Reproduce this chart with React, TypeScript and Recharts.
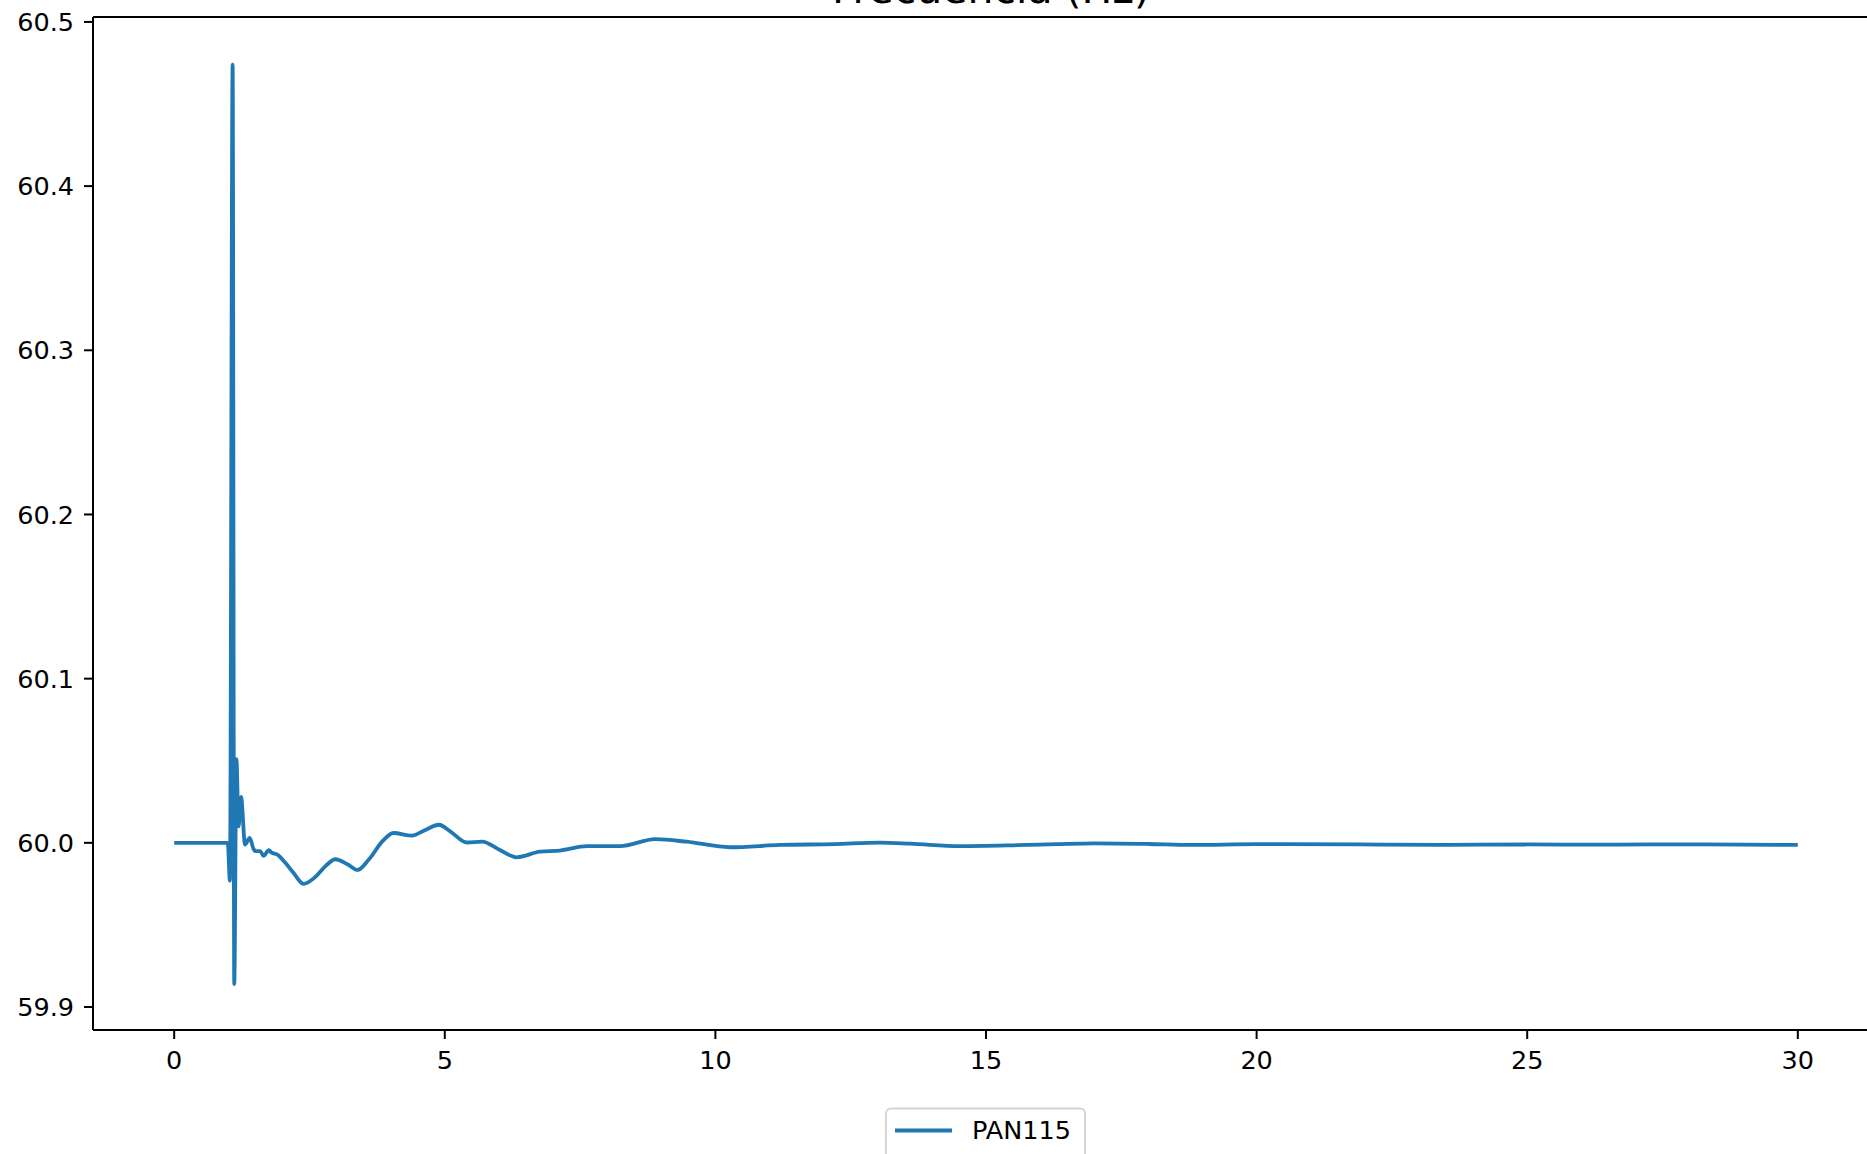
import { LineChart, Line, XAxis, YAxis, ReferenceLine } from "recharts";

const seriesName = "PAN115";
const chartTitle = "Frecuencia (Hz)";

// tiempo (s)
const time = [
  0, 0.99, 1.03, 1.08, 1.11, 1.15, 1.19, 1.235, 1.31, 1.395, 1.47, 1.5, 1.59, 1.65,
  1.75, 1.8, 1.9, 2.05, 2.21, 2.39, 2.6, 2.8, 2.98, 3.2, 3.39, 3.6, 3.85, 4.05, 4.39,
  4.65, 4.89, 5.1, 5.41, 5.69, 6.0, 6.33, 6.76, 7.13, 7.63, 8.24, 8.89, 9.47, 10.27,
  11.2, 12.2, 13.04, 13.6, 14.52, 15.5, 16.3, 17.0, 18.0, 18.8, 20.0, 21.9, 23.5,
  25.0, 26.5, 28.0, 30,
];

// frecuencia (Hz)
const freq = [
  60.0, 60.0, 59.977, 60.474, 59.914, 60.051, 60.01, 60.028, 59.999, 60.003, 59.996,
  59.995, 59.995, 59.992, 59.9955, 59.994, 59.993, 59.988, 59.9815, 59.975, 59.979,
  59.986, 59.99, 59.987, 59.9835, 59.99, 60.001, 60.006, 60.0044, 60.008, 60.011,
  60.007, 60.0002, 60.0007, 59.996, 59.9912, 59.9946, 59.9953, 59.998, 59.998, 60.0022,
  60.0007, 59.9973, 59.9987, 59.9992, 60.0001, 59.9995, 59.998, 59.9985, 59.9992,
  59.9997, 59.9993, 59.9987, 59.9992, 59.999, 59.9988, 59.999, 59.9989, 59.9991, 59.9987,
];

const xTicks = [0, 5, 10, 15, 20, 25, 30];
const yTicks = [59.9, 60.0, 60.1, 60.2, 60.3, 60.4, 60.5];
const yDomain = [59.886, 60.503];

const data = time.map((t, i) => ({ t, f: freq[i] }));

const FONT = "'DejaVu Sans', sans-serif";
const BLUE = "#1f77b4";

export default function App() {
  return (
    <div
      style={{
        position: "absolute",
        left: 0,
        top: 0,
        width: 1867,
        height: 1154,
        overflow: "hidden",
        background: "#fff",
        fontFamily: FONT,
      }}
    >
      <LineChart
        width={1900}
        height={1154}
        data={data}
        margin={{ top: 17, right: 21, bottom: 64, left: 0 }}
        style={{ fontFamily: FONT }}
      >
        <XAxis
          dataKey="t"
          type="number"
          domain={[-1.5, 31.5]}
          ticks={xTicks}
          height={60}
          tickSize={9}
          tickMargin={12}
          tick={{ fontSize: 25.5, fill: "#000" }}
          axisLine={{ stroke: "#000", strokeWidth: 2 }}
          tickLine={{ stroke: "#000", strokeWidth: 2 }}
          allowDataOverflow
        />
        <YAxis
          type="number"
          domain={yDomain}
          ticks={yTicks}
          width={93}
          tickSize={9}
          tickMargin={10}
          tickFormatter={(v: number) => v.toFixed(1)}
          tick={{ fontSize: 25.5, fill: "#000" }}
          axisLine={{ stroke: "#000", strokeWidth: 2 }}
          tickLine={{ stroke: "#000", strokeWidth: 2 }}
          allowDataOverflow
        />
        {/* borde superior del recuadro */}
        <ReferenceLine y={yDomain[1]} stroke="#000" strokeWidth={2} ifOverflow="visible" />
        <Line
          type="monotone"
          dataKey="f"
          name={seriesName}
          stroke={BLUE}
          strokeWidth={3.8}
          dot={false}
          isAnimationActive={false}
        />
      </LineChart>

      <svg
        width={1867}
        height={1154}
        style={{ position: "absolute", left: 0, top: 0, pointerEvents: "none" }}
      >
        <text x={991} y={3} textAnchor="middle" fontSize={41} fontFamily={FONT} fill="#000">
          {chartTitle}
        </text>
        <rect
          x={886}
          y={1108.5}
          width={199}
          height={52}
          rx={5}
          fill="#fff"
          fillOpacity={0.8}
          stroke="#d4d4d4"
          strokeWidth={2}
        />
        <line x1={895} y1={1130.5} x2={952} y2={1130.5} stroke={BLUE} strokeWidth={3.8} />
        <text x={972} y={1130} dominantBaseline="central" fontSize={25.5} fontFamily={FONT} fill="#000">
          {seriesName}
        </text>
      </svg>
    </div>
  );
}
